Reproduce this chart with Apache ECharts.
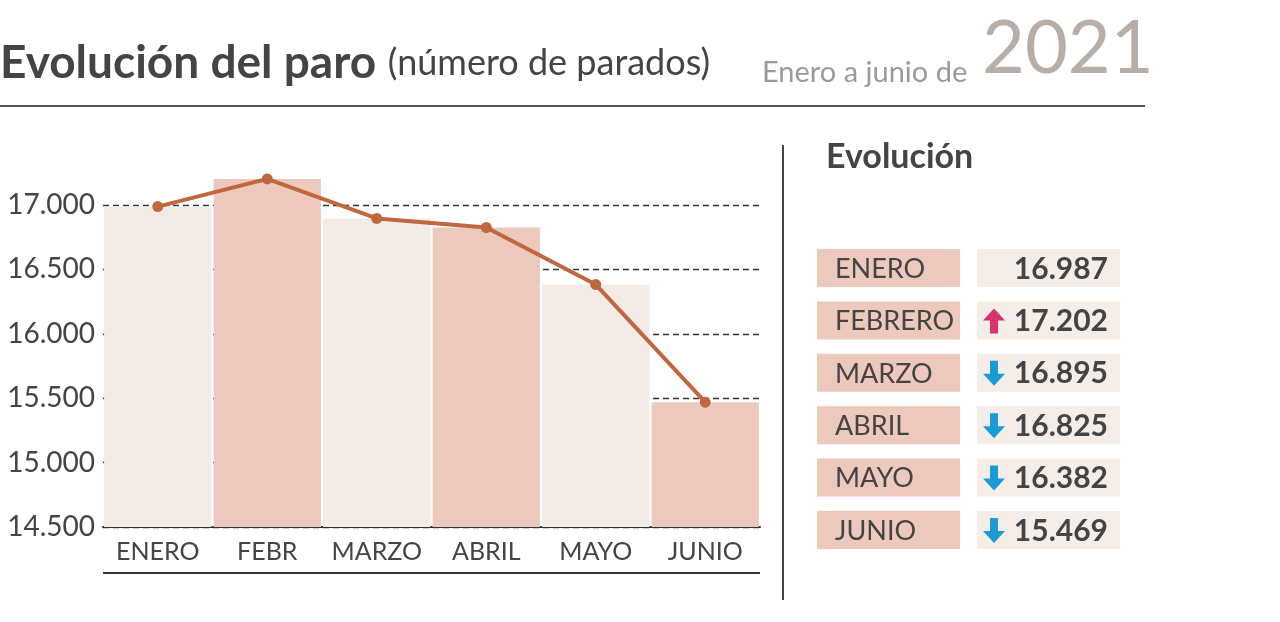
<!DOCTYPE html><html><head><meta charset="utf-8">
<script src="https://cdn.jsdelivr.net/npm/echarts@6/dist/echarts.min.js"></script>
<style>html,body{margin:0;background:#fff}#c{width:1280px;height:622px}</style></head><body><div id="c"></div>
<script>
const categories=['ENERO','FEBR','MARZO','ABRIL','MAYO','JUNIO'];
const values=[16987,17202,16895,16825,16382,15469];
const tableMonths=['ENERO','FEBRERO','MARZO','ABRIL','MAYO','JUNIO'];
const tableValues=['16.987','17.202','16.895','16.825','16.382','15.469'];
const trend=[0,1,-1,-1,-1,-1];
const F='Lato, "Open Sans", sans-serif';
const ch=echarts.init(document.getElementById('c'));
const g=[
 {type:'text',left:0,top:40,style:{text:'{a|Evolución del paro} {b|(número de parados)}',font:'46px '+F,rich:{a:{fontSize:46,fontWeight:'bold',fill:'#444',fontFamily:F},b:{fontSize:36,fill:'#444',fontFamily:F}}}},
 {type:'text',left:762,top:58,style:{text:'Enero a junio de',font:'29px '+F,fill:'#9a9a9a'}},
 {type:'text',left:982,top:12,style:{text:'2021',font:'74px '+F,fill:'#b8aea7'}},
 {type:'line',shape:{x1:0,y1:106,x2:1145,y2:106},style:{stroke:'#555',lineWidth:2}},
 {type:'line',shape:{x1:103,y1:573,x2:760,y2:573},style:{stroke:'#333',lineWidth:2}},
 {type:'line',shape:{x1:783,y1:145,x2:783,y2:600},style:{stroke:'#444',lineWidth:2}},
 {type:'text',left:826,top:140,style:{text:'Evolución',font:'bold 34px '+F,fill:'#444'}}
];
tableMonths.forEach((m,i)=>{
 const y=249+i*52.4;
 g.push({type:'rect',shape:{x:817,y:y,width:143,height:38},style:{fill:'#ecc9bc'}});
 g.push({type:'rect',shape:{x:977,y:y,width:143,height:38},style:{fill:'#f5ede8'}});
 g.push({type:'text',x:835,y:y+20,style:{text:m,font:'27px '+F,fill:'#444',verticalAlign:'middle'}});
 g.push({type:'text',x:1108,y:y+20,style:{text:tableValues[i],font:'bold 30px '+F,fill:'#444',align:'right',verticalAlign:'middle'}});
 if(trend[i]>0){g.push({type:'polygon',shape:{points:[[994,y+7],[1005,y+19],[998,y+19],[998,y+32],[990,y+32],[990,y+19],[983,y+19]]},style:{fill:'#d6336c'}});}
 if(trend[i]<0){g.push({type:'polygon',shape:{points:[[994,y+32],[1005,y+20],[998,y+20],[998,y+7],[990,y+7],[990,y+20],[983,y+20]]},style:{fill:'#1a9bd7'}});}
});
ch.setOption({
 animation:false,
 grid:{left:103,right:520,top:166.3,bottom:95},
 graphic:g,
 xAxis:{type:'category',data:categories,axisTick:{show:false},axisLine:{lineStyle:{color:'#333',width:2}},
  axisLabel:{interval:0,fontSize:25,color:'#444',fontFamily:F,margin:12}},
 yAxis:{type:'value',min:14500,max:17300,interval:500,axisLine:{show:false},axisTick:{show:false},
  axisLabel:{showMaxLabel:false,fontSize:28,color:'#444',fontFamily:F,margin:8,align:'right',formatter:v=>v.toLocaleString('de-DE')},
  splitLine:{showMaxLine:false,lineStyle:{type:[6,4],color:'#333',width:1.3}}},
 series:[
  {type:'bar',data:values.map((v,i)=>({value:v,itemStyle:{color:i%2?'#ecc9bc':'#f3ebe6'}})),barCategoryGap:'2%',z:1},
  {type:'line',data:values,lineStyle:{color:'#c0673f',width:4},itemStyle:{color:'#c0673f'},symbol:'circle',symbolSize:11,z:5}
 ]
});
</script></body></html>
